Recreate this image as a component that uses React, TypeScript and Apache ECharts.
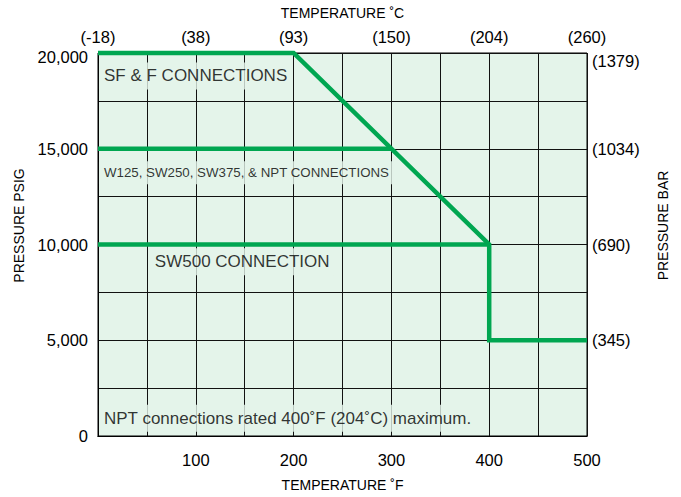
import React, { useEffect, useRef } from "react";
import * as echarts from "echarts";

// Tick labels
const celsiusLabels = ["(-18)", "(38)", "(93)", "(150)", "(204)", "(260)"];
const barLabels = ["", "(345)", "(690)", "(1034)", "(1379)"];

// Series values (temperature °F, pressure psig)
const sfTemps = [0, 200, 400, 400, 500];
const sfPsi = [20000, 20000, 10000, 5000, 5000];
const stdTemps = [0, 300];
const stdPsi = [15000, 15000];
const sw500Temps = [0, 400];
const sw500Psi = [10000, 10000];

// Annotations
const noteTexts = [
  "SF & F CONNECTIONS",
  "W125, SW250, SW375, & NPT CONNECTIONS",
  "SW500 CONNECTION",
  "NPT connections rated 400˚F (204˚C) maximum.",
];
const noteTemps = [1, 1, 53, 1];
const notePsi = [18800, 13750, 9100, 930];

const FONT = "'Liberation Sans', Arial, Helvetica, sans-serif";
const TXT = "#000";
const GREEN = "#00a651";
const BG = "#e4f4ea";
const GRIDC = "#111";

export default function App() {
  const ref = useRef<HTMLDivElement>(null);
  useEffect(() => {
    if (!ref.current) return;
    const chart = echarts.init(ref.current, undefined, { renderer: "svg" });
    const lineSeries = (temps: number[], psi: number[]) => ({
      type: "line",
      data: temps.map((t, i) => [t, psi[i]]),
      symbol: "none",
      clip: false,
      z: 3,
      lineStyle: { color: GREEN, width: 4.5, join: "miter" },
      silent: true,
    });
    const tickStyle = { fontSize: 16.5, color: TXT, fontFamily: FONT };
    const nameStyle = { fontSize: 14, color: TXT, fontFamily: FONT };
    chart.setOption({
      animation: false,
      grid: {
        left: 98,
        right: 94,
        top: 53,
        bottom: 57,
        show: true,
        backgroundColor: BG,
        borderColor: "#000",
        borderWidth: 1,
      },
      xAxis: [
        {
          type: "value",
          position: "bottom",
          min: 0,
          max: 500,
          interval: 50,
          name: "TEMPERATURE ˚F",
          nameLocation: "middle",
          nameGap: 42,
          nameTextStyle: nameStyle,
          axisLine: { show: true, lineStyle: { color: "#000", width: 1 } },
          axisTick: { show: false },
          axisLabel: {
            ...tickStyle,
            margin: 15,
            formatter: (v: number) => (v > 0 && v % 100 === 0 ? String(v) : ""),
          },
          splitLine: { show: true, lineStyle: { color: GRIDC, width: 1 } },
        },
        {
          type: "value",
          position: "top",
          min: 0,
          max: 500,
          interval: 100,
          name: "TEMPERATURE ˚C",
          nameLocation: "middle",
          nameGap: 33,
          nameTextStyle: nameStyle,
          axisLine: { show: true, lineStyle: { color: "#000", width: 1 } },
          axisTick: { show: false },
          axisLabel: {
            ...tickStyle,
            margin: 8,
            formatter: (v: number) => celsiusLabels[Math.round(v / 100)] ?? "",
          },
          splitLine: { show: false },
        },
      ],
      yAxis: [
        {
          type: "value",
          position: "left",
          min: 0,
          max: 20000,
          interval: 2500,
          name: "PRESSURE PSIG",
          nameLocation: "middle",
          nameRotate: 90,
          nameGap: 72,
          nameTextStyle: { ...nameStyle, padding: [0, 0, 0, 38] },
          axisLine: { show: true, lineStyle: { color: "#000", width: 1 } },
          axisTick: { show: false },
          axisLabel: {
            ...tickStyle,
            margin: 10,
            formatter: (v: number) => {
              if (v % 5000 !== 0) return "";
              const s = v.toLocaleString("en-US");
              return v === 20000 ? `{low|${s}}` : s;
            },
            rich: { low: { ...tickStyle, padding: [8, 0, 0, 0] } },
          },
          splitLine: { show: true, lineStyle: { color: GRIDC, width: 1 } },
        },
        {
          type: "value",
          position: "right",
          min: 0,
          max: 20000,
          interval: 5000,
          name: "PRESSURE BAR",
          nameLocation: "middle",
          nameRotate: 90,
          nameGap: 69,
          nameTextStyle: { ...nameStyle, padding: [0, 0, 0, 38] },
          axisLine: { show: true, lineStyle: { color: "#000", width: 1 } },
          axisTick: { show: false },
          axisLabel: {
            ...tickStyle,
            margin: 5,
            formatter: (v: number) => {
              const s = barLabels[Math.round(v / 5000)] ?? "";
              return v === 20000 ? `{low|${s}}` : s;
            },
            rich: { low: { ...tickStyle, padding: [16, 0, 0, 0] } },
          },
          splitLine: { show: false },
        },
      ],
      series: [
        lineSeries(sfTemps, sfPsi),
        lineSeries(stdTemps, stdPsi),
        lineSeries(sw500Temps, sw500Psi),
        {
          type: "scatter",
          symbolSize: 0.01,
          itemStyle: { color: "rgba(0,0,0,0)" },
          z: 5,
          silent: true,
          data: noteTexts.map((t, i) => ({
            value: [noteTemps[i], notePsi[i]],
            label: {
              show: true,
              position: "right",
              distance: 0,
              formatter: t,
              fontSize: i === 1 ? 13.3 : 17,
              color: TXT,
              fontFamily: FONT,
              backgroundColor: BG,
              padding: [5, 4, 5, 5],
            },
          })),
        },
      ],
    });
    return () => chart.dispose();
  }, []);
  return (
    <div
      ref={ref}
      style={{ position: "absolute", left: 0, top: 0, width: 681, height: 497 }}
    />
  );
}
